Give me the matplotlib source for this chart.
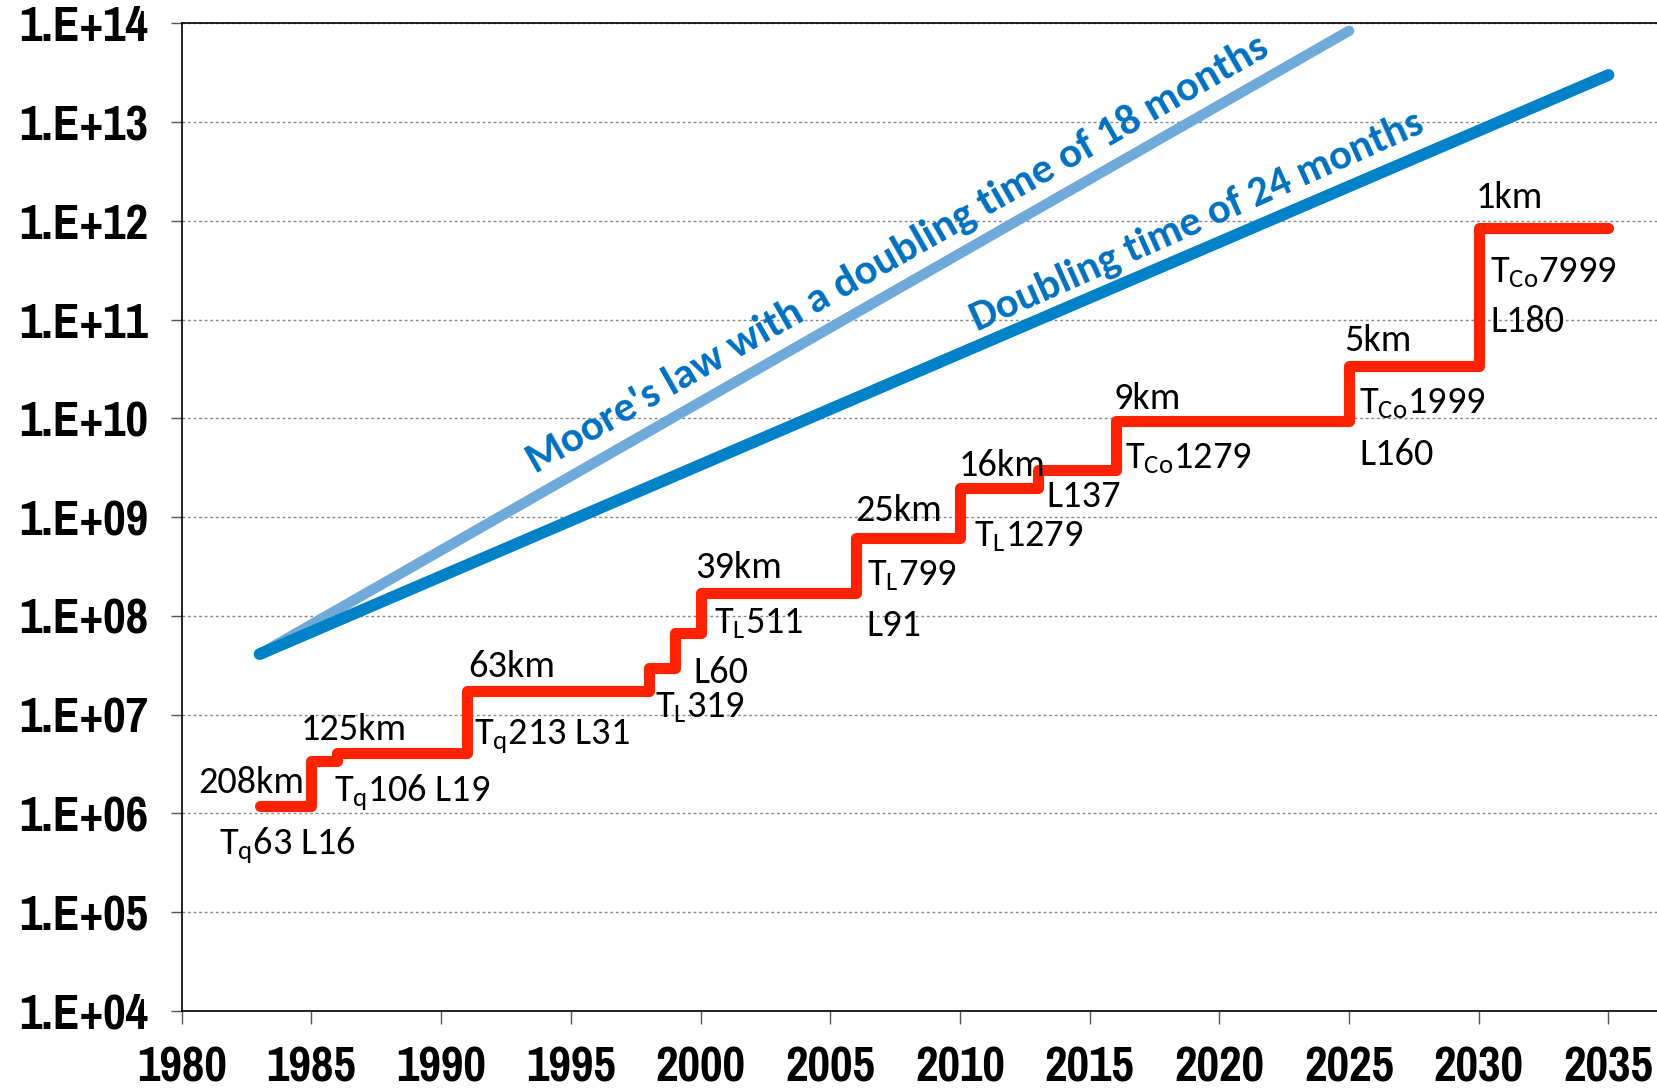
import numpy as np
import matplotlib
matplotlib.use("Agg")
import matplotlib.pyplot as plt
from matplotlib.ticker import FixedLocator, FuncFormatter

# ---- data ----
step_years = [1983, 1985, 1986, 1991, 1998, 1999, 2000, 2006, 2010, 2013, 2016, 2025, 2030, 2035]
step_values = [1.18e6, 3.4e6, 4.1e6, 1.74e7, 3.0e7, 6.7e7, 1.72e8, 6.2e8, 1.97e9,
               3.0e9, 9.3e9, 3.4e10, 8.4e11, 8.4e11]

moore18_years = [1983, 2025]
moore18_values = [4.1e7, 8.4e13]

double24_years = [1983, 2035]
double24_values = [4.1e7, 3.0e13]

y_decades = [1e4, 1e5, 1e6, 1e7, 1e8, 1e9, 1e10, 1e11, 1e12, 1e13, 1e14]
x_ticks = [1980, 1985, 1990, 1995, 2000, 2005, 2010, 2015, 2020, 2025, 2030, 2035]

# resolution / model labels
labels = ["208km", r"T$_\mathrm{q}$63 L16", "125km", r"T$_\mathrm{q}$106 L19",
          "63km", r"T$_\mathrm{q}$213 L31", r"T$_\mathrm{L}$319", "L60",
          r"T$_\mathrm{L}$511", "39km", r"T$_\mathrm{L}$799", "L91", "25km",
          r"T$_\mathrm{L}$1279", "16km", "L137", r"T$_\mathrm{Co}$1279", "9km",
          "5km", r"T$_\mathrm{Co}$1999", "L160", "1km", r"T$_\mathrm{Co}$7999", "L180"]
# label anchor (year, log10 value) - left edge, vertical centre
label_pos = [(1980.65, 6.318), (1981.43, 5.675), (1984.60, 6.853), (1985.87, 6.211),
             (1991.04, 7.484), (1991.28, 6.778), (1998.25, 7.067), (1999.72, 7.43),
             (2000.53, 7.923), (1999.80, 8.49), (2006.40, 8.404), (2006.40, 7.901),
             (2005.95, 9.068), (2010.55, 8.80), (2009.94, 9.527), (2013.32, 9.207),
             (2016.38, 9.592), (2015.93, 10.201), (2024.81, 10.79), (2025.38, 10.148),
             (2025.38, 9.635), (2029.87, 12.235), (2030.44, 11.475), (2030.44, 10.983)]

tick_font = ["Pragati Narrow", "DejaVu Sans"]
label_font = ["Carlito", "DejaVu Sans"]
plt.rcParams["mathtext.fontset"] = "custom"
plt.rcParams["mathtext.rm"] = "Carlito"
plt.rcParams["mathtext.it"] = "Carlito:italic"
plt.rcParams["mathtext.bf"] = "Carlito:bold"

fig = plt.figure(figsize=(16.57, 10.90), dpi=100)
ax = fig.add_axes([0.1097, 0.0725, 0.8903, 0.9061])

# Trend lines
ax.plot(moore18_years, moore18_values, color="#6FAADB", lw=7.5, solid_capstyle="round", zorder=3)
ax.plot(double24_years, double24_values, color="#0082C8", lw=8.5, solid_capstyle="round", zorder=4)

# Model resolution steps
ax.plot(step_years, step_values, drawstyle="steps-post", color="#FF2200", lw=8,
        solid_capstyle="round", solid_joinstyle="round", zorder=5)

ax.set_yscale("log")
ax.set_ylim(1e4, 1e14)
ax.set_xlim(1980, 2036.87)

ax.yaxis.set_major_locator(FixedLocator(y_decades))
ax.yaxis.set_minor_locator(FixedLocator([]))
ax.yaxis.set_major_formatter(FuncFormatter(lambda v, pos: "1.E+%02d" % int(round(np.log10(v)))))
ax.set_xticks(x_ticks)

for lab in ax.get_yticklabels() + ax.get_xticklabels():
    lab.set_fontfamily(tick_font)
    lab.set_fontweight("bold")
    lab.set_fontsize(38.5)

ax.tick_params(axis="y", length=8, width=1, pad=16, color="#555555")
ax.tick_params(axis="x", length=9, width=1, pad=16, color="#555555")

ax.grid(axis="y", color="#888888", ls=(0, (2, 2)), lw=1)
ax.set_axisbelow(True)
ax.spines["right"].set_visible(False)
for s in ["left", "bottom", "top"]:
    ax.spines[s].set_color("black")
    ax.spines[s].set_linewidth(1.2)

# Labels on the step line
for txt, (xx, ly) in zip(labels, label_pos):
    ax.text(xx, 10 ** ly, txt, ha="left", va="center", fontsize=27.5,
            fontfamily=label_font, color="black", zorder=6)

# Trend line captions
ax.text(2007.6, 10 ** 11.665, "Moore's law with a doubling time of 18 months",
        rotation=29.7, rotation_mode="anchor", ha="center", va="center",
        fontsize=31, fontweight="bold", fontfamily=label_font,
        color="#0070C0", zorder=6)
ax.text(2019.15, 10 ** 12.0, "Doubling time of 24 months",
        rotation=24.0, rotation_mode="anchor", ha="center", va="center",
        fontsize=30.5, fontweight="bold", fontfamily=label_font,
        color="#0070C0", zorder=6)

fig.set_facecolor("white")
fig.savefig("out.png", dpi=100)
